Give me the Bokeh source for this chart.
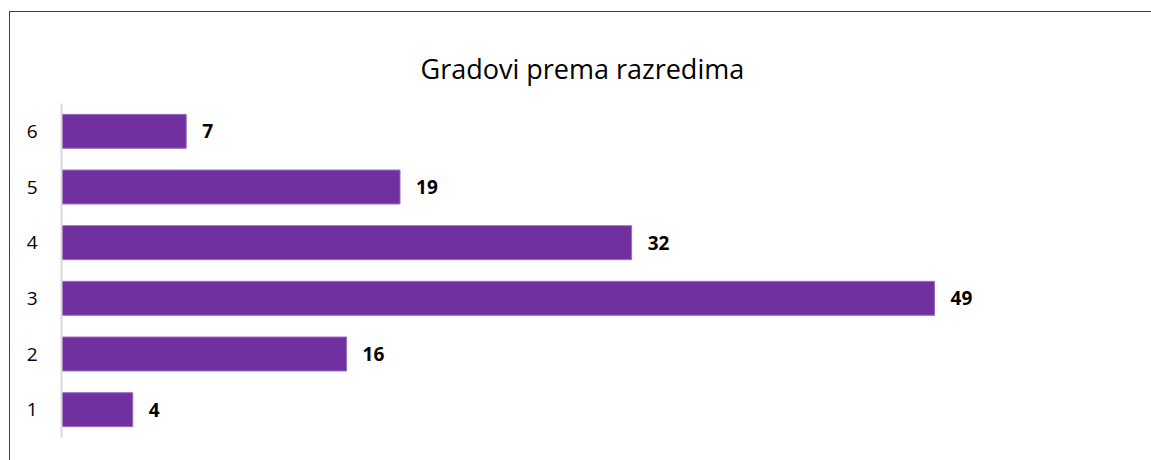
from bokeh.plotting import figure
from bokeh.models import ColumnDataSource, LabelSet, FactorRange, Range1d
from bokeh.core.properties import value
from bokeh.embed import file_html
from bokeh.resources import INLINE

categories = ["1", "2", "3", "4", "5", "6"]
counts = [4, 16, 49, 32, 19, 7]
title_text = "Gradovi prema razredima"

src = ColumnDataSource(dict(cat=categories, val=counts, lbl=[str(v) for v in counts]))

p = figure(width=1142, height=449, output_backend="svg", toolbar_location=None,
           y_range=FactorRange(factors=categories, range_padding=0),
           x_range=Range1d(0, 60),
           min_border_left=51, min_border_right=22, min_border_top=91, min_border_bottom=24)

p.hbar(y="cat", right="val", left=0, height=0.61, source=src,
       fill_color="#7030A0", line_color="#9a6cc0", line_width=1)

labels = LabelSet(x="val", y="cat", text="lbl", source=src, x_offset=16,
                  text_baseline="middle", text_align="left",
                  text_font=value("Open Sans"), text_font_style="bold",
                  text_font_size="19px", text_color="#000000")
p.add_layout(labels)

p.title.text = title_text
p.title.align = "left"
p.title.vertical_align = "top"
p.title.offset = 359
p.title.standoff = 30
p.title.text_font = "Open Sans"
p.title.text_font_style = "normal"
p.title.text_font_size = "27px"
p.title.text_color = "#000000"

p.xaxis.visible = False
p.xgrid.visible = False
p.ygrid.visible = False
p.yaxis.axis_line_color = "#d9d9d9"
p.yaxis.axis_line_width = 2
p.yaxis.major_tick_line_color = None
p.yaxis.minor_tick_line_color = None
p.yaxis.major_label_text_font = "Open Sans"
p.yaxis.major_label_text_font_size = "19px"
p.yaxis.major_label_text_color = "#000000"
p.yaxis.major_label_standoff = 18
p.outline_line_color = None
p.styles = {"border-left": "1px solid #404040", "border-top": "1px solid #404040",
            "box-sizing": "border-box", "margin-left": "9px", "margin-top": "11px"}

open("out.html", "w").write(file_html(p, INLINE))
